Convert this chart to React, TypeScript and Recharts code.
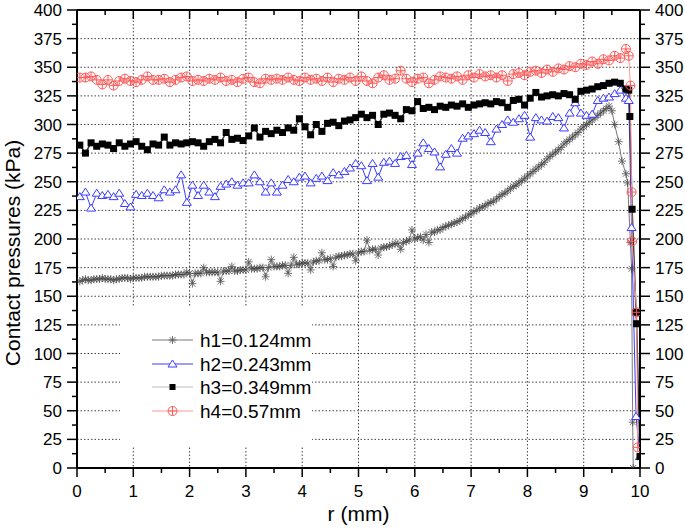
import React from 'react';
import { LineChart, Line, XAxis, YAxis, CartesianGrid, Legend } from 'recharts';

const FONT = '"Liberation Sans", Arial, sans-serif';

// radial positions (mm) of the sampled points
const R_GRID = [
  0.05, 0.15, 0.25, 0.35, 0.45, 0.55, 0.65, 0.75, 0.85, 0.95,
  1.05, 1.15, 1.25, 1.35, 1.45, 1.55, 1.65, 1.75, 1.85, 1.95,
  2.05, 2.15, 2.25, 2.35, 2.45, 2.55, 2.65, 2.75, 2.85, 2.95,
  3.05, 3.15, 3.25, 3.35, 3.45, 3.55, 3.65, 3.75, 3.85, 3.95,
  4.05, 4.15, 4.25, 4.35, 4.45, 4.55, 4.65, 4.75, 4.85, 4.95,
  5.05, 5.15, 5.25, 5.35, 5.45, 5.55, 5.65, 5.75, 5.85, 5.95,
  6.05, 6.15, 6.25, 6.35, 6.45, 6.55, 6.65, 6.75, 6.85, 6.95,
  7.05, 7.15, 7.25, 7.35, 7.45, 7.55, 7.65, 7.75, 7.85, 7.95,
  8.05, 8.15, 8.25, 8.35, 8.45, 8.55, 8.65, 8.75, 8.85, 8.95,
  9.05, 9.15, 9.25, 9.35, 9.45, 9.55, 9.65, 9.75,
];
// additional in-between positions where h1 was sampled more densely
const R_GRID_B = [
  0.1, 0.2, 0.3, 0.4, 0.5, 0.6, 0.7, 0.8, 0.9, 1.0,
  1.1, 1.2, 1.3, 1.4, 1.5, 1.6, 1.7, 1.8, 1.9, 2.0,
  2.1, 2.2, 2.3, 2.4, 2.5, 2.6, 2.7, 2.8, 2.9, 3.0,
  3.1, 3.2, 3.3, 3.4, 3.5, 3.6, 3.7, 3.8, 3.9, 4.0,
  4.1, 4.2, 4.3, 4.4, 4.5, 4.6, 4.7, 4.8, 4.9, 5.0,
  5.1, 5.2, 5.3, 5.4, 5.5, 5.6, 5.7, 5.8, 5.9, 6.0,
  6.1, 6.2, 6.3, 6.4, 6.5, 6.6, 6.7, 6.8, 6.9, 7.0,
  7.1, 7.2, 7.3, 7.4, 7.5, 7.6, 7.7, 7.8, 7.9, 8.0,
  8.1, 8.2, 8.3, 8.4, 8.5, 8.6, 8.7, 8.8, 8.9, 9.0,
  9.1, 9.2, 9.3, 9.4,
];

// h1 = 0.124 mm
const H1_MAIN = [
  163, 165, 164, 165, 166, 165, 164, 165, 166, 165,
  166, 166, 167, 167, 167, 168, 168, 169, 169, 171,
  161, 170, 175, 171, 171, 163, 172, 176, 172, 173,
  180, 174, 175, 167, 182, 176, 177, 170, 184, 178,
  179, 173, 181, 188, 182, 176, 185, 186, 187, 181,
  189, 199, 191, 186, 193, 194, 196, 191, 198, 208,
  201, 199, 197, 206, 208, 211, 213, 215, 218, 221,
  224, 227, 229, 232, 235, 239, 242, 246, 249, 253,
  257, 261, 265, 270, 274, 278, 283, 287, 291, 296,
  300, 304, 308, 312, 316,
];
const H1_B = [
  164, 164, 165, 165, 165, 165, 165, 166, 166, 166,
  166, 167, 167, 167, 168, 168, 168, 169, 169, 170,
  170, 170, 171, 171, 171, 172, 172, 172, 173, 173,
  174, 174, 175, 175, 176, 176, 177, 177, 178, 179,
  179, 180, 181, 182, 183, 184, 185, 186, 187, 188,
  189, 190, 191, 192, 193, 195, 196, 197, 199, 200,
  202, 204, 206, 208, 210, 212, 214, 216, 219, 222,
  225, 228, 231, 233, 237, 240, 244, 247, 251, 255,
  259, 263, 267, 272, 276, 280, 285, 289, 293, 298,
  302, 306, 310, 314,
];
const H1_TAIL_R = [9.5, 9.55, 9.62, 9.68, 9.75, 9.78, 9.83, 9.85, 9.87, 9.88];
const H1_TAIL_P = [312, 300, 285, 268, 257, 249, 197, 174, 40, 0];

// h2 = 0.243 mm
const H2_MAIN = [
  237, 241, 227, 240, 238, 239, 237, 240, 231, 228,
  239, 238, 240, 238, 236, 243, 241, 243, 256, 232,
  247, 238, 247, 241, 237, 246, 248, 250, 247, 249,
  249, 256, 250, 241, 249, 241, 247, 252, 250, 254,
  255, 249, 253, 255, 251, 258, 256, 259, 262, 266,
  264, 251, 266, 254, 267, 268, 266, 272, 273, 265,
  275, 284, 279, 276, 263, 274, 279, 275, 288, 290,
  292, 295, 293, 285, 296, 300, 304, 302, 305, 308,
  289, 306, 304, 303, 307, 306, 297, 310, 319, 310,
  308, 309, 321, 323, 324, 327, 330, 323,
];
const H2_TAIL_R = [9.8, 9.85, 9.93, 10];
const H2_TAIL_P = [321, 210, 45, 10];

// h3 = 0.349 mm
const H3_MAIN = [
  282, 275, 284, 281, 283, 282, 279, 284, 281, 283,
  285, 281, 278, 283, 282, 289, 282, 284, 283, 284,
  285, 284, 281, 285, 287, 284, 293, 287, 288, 286,
  290, 297, 289, 294, 292, 295, 293, 297, 295, 305,
  298, 291, 300, 294, 301, 302, 299, 303, 304, 306,
  309, 306, 308, 300, 309, 310, 308, 305, 313, 312,
  320, 314, 315, 313, 316, 315, 317, 316, 318, 315,
  317, 318, 319, 318, 320, 319, 315, 321, 322, 317,
  323, 328, 324, 325, 326, 325, 327, 326, 322, 329,
  330, 331, 333, 334, 336, 337, 336, 331,
];
const H3_TAIL_R = [9.8, 9.82, 9.86, 9.93, 9.94, 10];
const H3_TAIL_P = [330, 307, 226, 136, 126, 10];

// h4 = 0.57 mm
const H4_MAIN = [
  341, 341, 342, 339, 335, 339, 334, 338, 340, 338,
  337, 339, 342, 339, 339, 340, 337, 339, 341, 342,
  338, 339, 338, 340, 339, 341, 338, 339, 337, 340,
  341, 337, 336, 340, 339, 340, 339, 341, 339, 338,
  341, 339, 340, 338, 341, 337, 340, 339, 341, 338,
  342, 338, 336, 341, 343, 339, 340, 347, 340, 337,
  340, 341, 336, 339, 342, 341, 340, 342, 339, 343,
  341, 344, 342, 343, 341, 343, 338, 344, 345, 343,
  346, 347, 345, 348, 346, 349, 348, 351, 350, 353,
  352, 355, 353, 357, 356, 360, 358, 366,
];
const H4_TAIL_R = [9.8, 9.83, 9.85, 9.86, 9.94, 9.96];
const H4_TAIL_P = [360, 334, 241, 198, 136, 18];

const SERIES_NAMES = ['h1=0.124mm', 'h2=0.243mm', 'h3=0.349mm', 'h4=0.57mm'];

const X_TICKS = [0, 0.5, 1, 1.5, 2, 2.5, 3, 3.5, 4, 4.5, 5, 5.5, 6, 6.5, 7, 7.5, 8, 8.5, 9, 9.5, 10];
const X_MAJOR = [0, 1, 2, 3, 4, 5, 6, 7, 8, 9, 10];
const Y_TICKS = [
  0, 12.5, 25, 37.5, 50, 62.5, 75, 87.5, 100, 112.5, 125, 137.5, 150, 162.5, 175, 187.5,
  200, 212.5, 225, 237.5, 250, 262.5, 275, 287.5, 300, 312.5, 325, 337.5, 350, 362.5, 375, 387.5, 400,
];
const Y_MAJOR = [0, 25, 50, 75, 100, 125, 150, 175, 200, 225, 250, 275, 300, 325, 350, 375, 400];
const GRID_X = [1, 2, 3, 4, 5, 6, 7, 8, 9];
const GRID_Y = [25, 50, 75, 100, 125, 150, 175, 200, 225, 250, 275, 300, 325, 350, 375];

type Pt = { x: number; y: number };
function build(main: number[], tailR: number[], tailP: number[], extraR: number[] = [], extraP: number[] = []) {
  const pts: Pt[] = main.map((p, i) => ({ x: R_GRID[i], y: p }));
  extraP.forEach((p, i) => pts.push({ x: extraR[i], y: p }));
  pts.sort((a, b) => a.x - b.x);
  tailR.forEach((r, i) => pts.push({ x: r, y: tailP[i] }));
  return pts;
}

const h1Data = build(H1_MAIN, H1_TAIL_R, H1_TAIL_P, R_GRID_B, H1_B);
const h2Data = build(H2_MAIN, H2_TAIL_R, H2_TAIL_P);
const h3Data = build(H3_MAIN, H3_TAIL_R, H3_TAIL_P);
const h4Data = build(H4_MAIN, H4_TAIL_R, H4_TAIL_P);

const C_H1_LINE = '#7a7a7a';
const C_H1_MARK = '#444444';
const C_BLUE = '#3c3cff';
const C_H3_LINE = '#333333';
const C_RED_LINE = '#ff9a9a';
const C_RED_MARK = '#ff5a5a';

const Star = ({ cx, cy }: any) => (
  <g stroke={C_H1_MARK} strokeWidth={1} opacity={0.75}>
    <line x1={cx - 4} y1={cy} x2={cx + 4} y2={cy} />
    <line x1={cx} y1={cy - 4} x2={cx} y2={cy + 4} />
    <line x1={cx - 3} y1={cy - 3} x2={cx + 3} y2={cy + 3} />
    <line x1={cx - 3} y1={cy + 3} x2={cx + 3} y2={cy - 3} />
  </g>
);
const Tri = ({ cx, cy }: any) => (
  <path d={`M${cx},${cy - 4} L${cx + 4.5},${cy + 3} L${cx - 4.5},${cy + 3} Z`} fill="#fff" stroke={C_BLUE} strokeWidth={1} />
);
const Sq = ({ cx, cy, s = 7 }: any) => <rect x={cx - s / 2} y={cy - s / 2} width={s} height={s} fill="#000" />;
const SqLegend = ({ cx, cy }: any) => <Sq cx={cx} cy={cy} s={6} />;
const CirclePlus = ({ cx, cy }: any) => (
  <g stroke={C_RED_MARK} strokeWidth={1} fill="none">
    <circle cx={cx} cy={cy} r={4.5} />
    <line x1={cx - 4.5} y1={cy} x2={cx + 4.5} y2={cy} />
    <line x1={cx} y1={cy - 4.5} x2={cx} y2={cy + 4.5} />
  </g>
);

const mk = (Comp: any, id: string) => (p: any) => <Comp key={`${id}-${p.index}`} cx={p.cx} cy={p.cy} />;

const LeftTick = ({ x, y, payload }: any) => {
  const major = Y_MAJOR.includes(payload.value);
  return (
    <g>
      <line x1={x} y1={y} x2={x - (major ? 10 : 5)} y2={y} stroke="#000" strokeWidth={1.5} />
      {major && (
        <text x={x - 15} y={y + 6} textAnchor="end" fontSize={17} fontFamily={FONT} fill="#000">
          {payload.value}
        </text>
      )}
    </g>
  );
};
const RightTick = ({ x, y, payload }: any) => {
  const major = Y_MAJOR.includes(payload.value);
  return (
    <g>
      <line x1={x} y1={y} x2={x + (major ? 10 : 5)} y2={y} stroke="#000" strokeWidth={1.5} />
      {major && (
        <text x={x + 15} y={y + 6} textAnchor="start" fontSize={17} fontFamily={FONT} fill="#000">
          {payload.value}
        </text>
      )}
    </g>
  );
};
const BottomTick = ({ x, y, payload }: any) => {
  const major = X_MAJOR.includes(payload.value);
  return (
    <g>
      <line x1={x} y1={y} x2={x} y2={y + (major ? 9 : 5)} stroke="#000" strokeWidth={1.5} />
      {major && (
        <text x={x} y={y + 29} textAnchor="middle" fontSize={17} fontFamily={FONT} fill="#000">
          {payload.value}
        </text>
      )}
    </g>
  );
};
const TopTick = ({ x, y, payload }: any) => {
  const major = X_MAJOR.includes(payload.value);
  return <line x1={x} y1={y} x2={x} y2={y + (major ? 9 : 5)} stroke="#000" strokeWidth={1.5} />;
};

const XLabel = ({ viewBox }: any) => (
  <text x={viewBox.x + viewBox.width / 2} y={viewBox.y + 53} textAnchor="middle" fontSize={21} fontFamily={FONT} fill="#000">
    r (mm)
  </text>
);
const YLabel = ({ viewBox }: any) => {
  const cx = viewBox.x + 5;
  const cy = viewBox.y + viewBox.height / 2 + 14;
  return (
    <text
      x={cx}
      y={cy}
      transform={`rotate(-90, ${cx}, ${cy})`}
      textAnchor="middle"
      dominantBaseline="central"
      fontSize={21}
      fontFamily={FONT}
      fill="#000"
    >
      Contact pressures (kPa)
    </text>
  );
};

const LEGEND_LINES = [C_H1_LINE, C_BLUE, '#bdbdbd', C_RED_LINE];
const LEGEND_MARKS = [Star, Tri, SqLegend, CirclePlus];
const LEGEND_ROWS = [34, 58, 81, 105];

const LegendBox = () => (
  <svg width={192} height={140} style={{ display: 'block' }}>
    <rect x={0} y={0} width={192} height={140} fill="#fff" />
    {SERIES_NAMES.map((name, i) => {
      const M = LEGEND_MARKS[i];
      const cy = LEGEND_ROWS[i];
      return (
        <g key={name}>
          <line x1={32} y1={cy} x2={73} y2={cy} stroke={LEGEND_LINES[i]} strokeWidth={1.2} />
          <M cx={52.5} cy={cy} />
          <text x={80} y={cy + 7} fontSize={19} fontFamily={FONT} fill="#000">
            {name}
          </text>
        </g>
      );
    })}
  </svg>
);

export default function App() {
  return (
    <div style={{ position: 'absolute', left: 0, top: 0, background: '#fff' }}>
      <LineChart width={685} height={528} margin={{ top: 5, right: 5, bottom: 0, left: 7 }}>
        <CartesianGrid
          horizontalValues={GRID_Y}
          verticalValues={GRID_X}
          stroke="#444"
          strokeDasharray="1.5 2"
          strokeWidth={1}
        />
        <XAxis
          dataKey="x"
          type="number"
          domain={[0, 10]}
          allowDataOverflow
          ticks={X_TICKS}
          interval={0}
          tick={<BottomTick />}
          tickLine={false}
          tickSize={0}
          tickMargin={0}
          axisLine={{ stroke: '#000', strokeWidth: 2 }}
          height={60}
          label={<XLabel />}
        />
        <XAxis
          xAxisId="top"
          orientation="top"
          dataKey="x"
          type="number"
          domain={[0, 10]}
          allowDataOverflow
          ticks={X_TICKS}
          interval={0}
          tick={<TopTick />}
          tickLine={false}
          tickSize={0}
          tickMargin={0}
          axisLine={{ stroke: '#000', strokeWidth: 2 }}
          height={5}
        />
        <YAxis
          type="number"
          domain={[0, 400]}
          allowDataOverflow
          ticks={Y_TICKS}
          interval={0}
          tick={<LeftTick />}
          tickLine={false}
          tickSize={0}
          tickMargin={0}
          axisLine={{ stroke: '#000', strokeWidth: 2 }}
          width={70}
          label={<YLabel />}
        />
        <YAxis
          yAxisId="right"
          orientation="right"
          type="number"
          domain={[0, 400]}
          allowDataOverflow
          ticks={Y_TICKS}
          interval={0}
          tick={<RightTick />}
          tickLine={false}
          tickSize={0}
          tickMargin={0}
          axisLine={{ stroke: '#000', strokeWidth: 2 }}
          width={40}
        />
        <Legend
          layout="vertical"
          align="center"
          verticalAlign="middle"
          content={<LegendBox />}
          wrapperStyle={{ left: 120, top: 306, width: 192, height: 140, background: '#fff' }}
        />
        <Line
          data={h1Data}
          dataKey="y"
          name={SERIES_NAMES[0]}
          type="linear"
          stroke={C_H1_LINE}
          strokeWidth={1}
          dot={mk(Star, 'h1')}
          activeDot={false}
          isAnimationActive={false}
        />
        <Line
          data={h2Data}
          dataKey="y"
          name={SERIES_NAMES[1]}
          type="linear"
          stroke={C_BLUE}
          strokeWidth={1}
          dot={mk(Tri, 'h2')}
          activeDot={false}
          isAnimationActive={false}
        />
        <Line
          data={h3Data}
          dataKey="y"
          name={SERIES_NAMES[2]}
          type="linear"
          stroke={C_H3_LINE}
          strokeWidth={1.5}
          dot={mk(Sq, 'h3')}
          activeDot={false}
          isAnimationActive={false}
        />
        <Line
          data={h4Data}
          dataKey="y"
          name={SERIES_NAMES[3]}
          type="linear"
          stroke={C_RED_LINE}
          strokeWidth={1}
          dot={mk(CirclePlus, 'h4')}
          activeDot={false}
          isAnimationActive={false}
        />
      </LineChart>
    </div>
  );
}
